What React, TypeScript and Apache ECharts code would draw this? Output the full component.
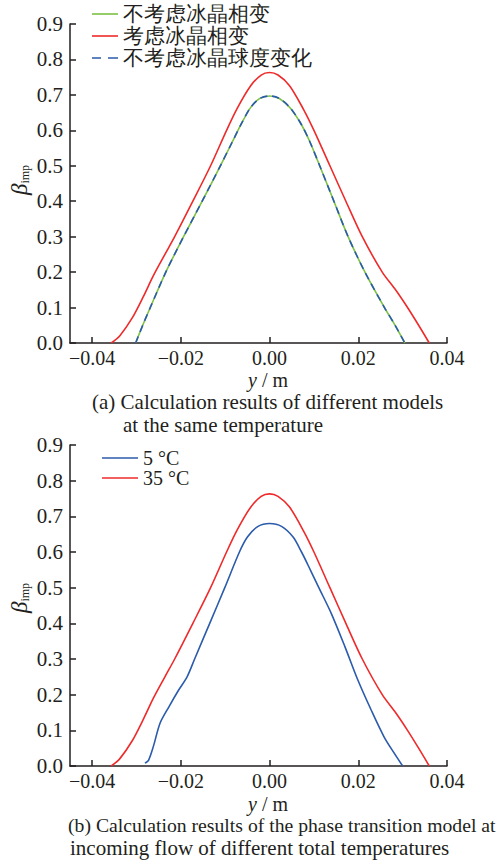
import React, { useEffect, useRef } from 'react';
import * as echarts from 'echarts';

const xTickValues = [-0.04, -0.02, 0, 0.02, 0.04];
const namesA = ['不考虑冰晶相变', '考虑冰晶相变', '不考虑冰晶球度变化'];
const namesB = ['5 °C', '35 °C'];

// (a) no phase change model
const noPhaseChange: number[][] = [
  [-0.0302, 0.0], [-0.0286, 0.05], [-0.0269, 0.10], [-0.0234, 0.20], [-0.0194, 0.30],
  [-0.0152, 0.40], [-0.0111, 0.50], [-0.0085, 0.565], [-0.0063, 0.62], [-0.0043, 0.664],
  [-0.0022, 0.69], [0, 0.697], [0.0022, 0.69], [0.0046, 0.664], [0.0070, 0.62],
  [0.0090, 0.57], [0.0113, 0.50], [0.0145, 0.40], [0.0177, 0.30], [0.0215, 0.20],
  [0.0259, 0.10], [0.0283, 0.05], [0.0305, 0.0],
];
// (a) phase change model
const phaseChange: number[][] = [
  [-0.0357, 0.0], [-0.0338, 0.02], [-0.0310, 0.07], [-0.0285, 0.13], [-0.0262, 0.19],
  [-0.0236, 0.25], [-0.0214, 0.30], [-0.0173, 0.40], [-0.0133, 0.50], [-0.0097, 0.60],
  [-0.0073, 0.662], [-0.0043, 0.725], [-0.0019, 0.756], [0, 0.763], [0.0019, 0.756],
  [0.0045, 0.726], [0.0077, 0.658], [0.0100, 0.60], [0.0136, 0.50], [0.0172, 0.40],
  [0.0209, 0.30], [0.0254, 0.20], [0.0284, 0.15], [0.0311, 0.10], [0.0336, 0.05],
  [0.0360, 0.0],
];
// (a) no sphericity change model
const noSphericity: number[][] = [
  [-0.0302, 0.0], [-0.0286, 0.05], [-0.0269, 0.10], [-0.0234, 0.20], [-0.0194, 0.30],
  [-0.0152, 0.40], [-0.0111, 0.50], [-0.0085, 0.565], [-0.0063, 0.62], [-0.0043, 0.664],
  [-0.0022, 0.69], [0, 0.697], [0.0022, 0.69], [0.0046, 0.664], [0.0070, 0.62],
  [0.0090, 0.57], [0.0113, 0.50], [0.0145, 0.40], [0.0177, 0.30], [0.0215, 0.20],
  [0.0259, 0.10], [0.0283, 0.05], [0.0305, 0.0],
];
// (b) 5 °C
const temp5: number[][] = [
  [-0.0281, 0.008], [-0.0273, 0.016], [-0.0262, 0.055], [-0.0247, 0.12], [-0.0227, 0.166],
  [-0.0205, 0.213], [-0.0186, 0.25], [-0.0169, 0.30], [-0.0135, 0.40], [-0.0101, 0.50],
  [-0.0068, 0.60], [-0.0050, 0.642], [-0.0026, 0.672], [0, 0.680], [0.0027, 0.672],
  [0.0053, 0.642], [0.0072, 0.60], [0.0086, 0.565], [0.0111, 0.50], [0.0139, 0.428],
  [0.0170, 0.334], [0.0199, 0.241], [0.0229, 0.157], [0.0258, 0.082], [0.0281, 0.036],
  [0.0300, 0.0],
];
// (b) 35 °C
const temp35: number[][] = [
  [-0.0357, 0.0], [-0.0338, 0.02], [-0.0310, 0.07], [-0.0285, 0.13], [-0.0262, 0.19],
  [-0.0236, 0.25], [-0.0214, 0.30], [-0.0173, 0.40], [-0.0133, 0.50], [-0.0097, 0.60],
  [-0.0073, 0.662], [-0.0043, 0.725], [-0.0019, 0.756], [0, 0.763], [0.0019, 0.756],
  [0.0045, 0.726], [0.0077, 0.658], [0.0100, 0.60], [0.0136, 0.50], [0.0172, 0.40],
  [0.0209, 0.30], [0.0254, 0.20], [0.0284, 0.15], [0.0311, 0.10], [0.0336, 0.05],
  [0.0360, 0.0],
];

const captionA = ['(a) Calculation results of different models', 'at the same temperature'];
const captionB = [
  '(b) Calculation results of the phase transition model at',
  'incoming flow of different total temperatures',
];

const SERIF = 'Liberation Serif';
const INK = '#231f20';
const RED = '#ee2a2a';
const GREEN = '#7cc144';
const BLUE = '#2b5bab';

const SOLID_A = 'path://M0,0H26V1.6H0Z';
const DASH_A = 'path://M0,0H9V1.6H0Z M16,0H26V1.6H16Z';
const SOLID_B = 'path://M0,0H36V1.6H0Z';

function xAxisCfg(gridIndex: number) {
  return {
    type: 'value',
    gridIndex,
    min: -0.045,
    max: 0.04,
    axisLine: { show: true, onZero: false, lineStyle: { color: INK, width: 1.5 } },
    axisTick: { show: true, inside: true, length: 6, customValues: xTickValues, lineStyle: { color: INK, width: 1.5 } },
    axisLabel: {
      customValues: xTickValues,
      margin: 5,
      fontFamily: SERIF,
      fontSize: 20,
      color: INK,
      formatter: (v: number) => (v < 0 ? '\u2212' : '') + Math.abs(v).toFixed(2),
    },
    splitLine: { show: false },
  };
}

function yAxisCfg(gridIndex: number) {
  return {
    type: 'value',
    gridIndex,
    min: 0,
    max: 0.9,
    interval: 0.1,
    axisLine: { show: true, onZero: false, lineStyle: { color: INK, width: 1.5 } },
    axisTick: { show: true, inside: true, length: 6, lineStyle: { color: INK, width: 1.5 } },
    axisLabel: {
      margin: 7,
      fontFamily: SERIF,
      fontSize: 21,
      color: INK,
      formatter: (v: number) => v.toFixed(1),
    },
    splitLine: { show: false },
  };
}

function lineSeries(name: string, data: number[][], color: string, idx: number, dashed = false) {
  return {
    type: 'line',
    name,
    data,
    xAxisIndex: idx,
    yAxisIndex: idx,
    symbol: 'none',
    showSymbol: false,
    smooth: 0.3,
    lineStyle: { color, width: 1.6, type: dashed ? [7, 5] : 'solid' },
    itemStyle: { color },
  };
}

function textEl(text: string, x: number, y: number, fontSize = 21) {
  return {
    type: 'text',
    x,
    y,
    style: { text, fontFamily: SERIF, fontSize, fill: INK, align: 'left', verticalAlign: 'middle' },
  };
}

function betaEl(x: number, y: number) {
  return {
    type: 'text',
    x,
    y,
    rotation: Math.PI / 2,
    style: {
      text: '{b|β}{s|imp}',
      fontFamily: SERIF,
      align: 'center',
      verticalAlign: 'middle',
      fill: INK,
      rich: {
        b: { fontFamily: SERIF, fontStyle: 'italic', fontSize: 23, lineHeight: 24, fill: INK },
        s: { fontFamily: SERIF, fontSize: 12, lineHeight: 24, verticalAlign: 'bottom', fill: INK },
      },
    },
  };
}

function yLabelEl(x: number, y: number) {
  return {
    type: 'text',
    x,
    y,
    style: {
      text: '{i|y}{n| / m}',
      fontFamily: SERIF,
      fontSize: 20,
      fill: INK,
      align: 'center',
      verticalAlign: 'middle',
      rich: {
        i: { fontFamily: SERIF, fontSize: 20, fontStyle: 'italic', fill: INK },
        n: { fontFamily: SERIF, fontSize: 20, fill: INK },
      },
    },
  };
}

export default function App() {
  const ref = useRef<HTMLDivElement>(null);
  useEffect(() => {
    if (!ref.current) return;
    const chart = echarts.init(ref.current, undefined, { renderer: 'svg' });
    chart.setOption({
      animation: false,
      backgroundColor: '#ffffff',
      textStyle: { fontFamily: SERIF },
      grid: [
        { left: 70, top: 24, width: 377, height: 319, containLabel: false, outerBoundsMode: 'none' },
        { left: 70, top: 445, width: 377, height: 321, containLabel: false, outerBoundsMode: 'none' },
      ],
      xAxis: [xAxisCfg(0), xAxisCfg(1)],
      yAxis: [yAxisCfg(0), yAxisCfg(1)],
      legend: [
        {
          data: [
            { name: namesA[0], icon: SOLID_A },
            { name: namesA[1], icon: SOLID_A },
            { name: namesA[2], icon: DASH_A },
          ],
          orient: 'vertical',
          left: 92,
          top: 3,
          itemWidth: 26,
          itemHeight: 1.6,
          itemGap: 0,
          padding: 0,
          textStyle: { fontFamily: SERIF, fontSize: 21, lineHeight: 22, color: INK },
        },
        {
          data: [
            { name: namesB[0], icon: SOLID_B },
            { name: namesB[1], icon: SOLID_B },
          ],
          orient: 'vertical',
          left: 102,
          top: 448,
          itemWidth: 36,
          itemHeight: 1.6,
          itemGap: 0,
          padding: 0,
          textStyle: { fontFamily: SERIF, fontSize: 20, lineHeight: 18, color: INK },
        },
      ],
      series: [
        lineSeries(namesA[0], noPhaseChange, GREEN, 0),
        lineSeries(namesA[1], phaseChange, RED, 0),
        lineSeries(namesA[2], noSphericity, BLUE, 0, true),
        lineSeries(namesB[0], temp5, BLUE, 1),
        lineSeries(namesB[1], temp35, RED, 1),
      ],
      graphic: [
        betaEl(19, 180),
        betaEl(19, 598),
        yLabelEl(268, 380),
        yLabelEl(268, 804),
        textEl(captionA[0], 92, 402),
        textEl(captionA[1], 123, 425),
        textEl(captionB[0], 68, 825, 19.7),
        textEl(captionB[1], 70, 848),
      ],
    });
    return () => chart.dispose();
  }, []);
  return (
    <div
      ref={ref}
      style={{ position: 'absolute', left: 0, top: 0, width: 501, height: 862, background: '#fff' }}
    />
  );
}
